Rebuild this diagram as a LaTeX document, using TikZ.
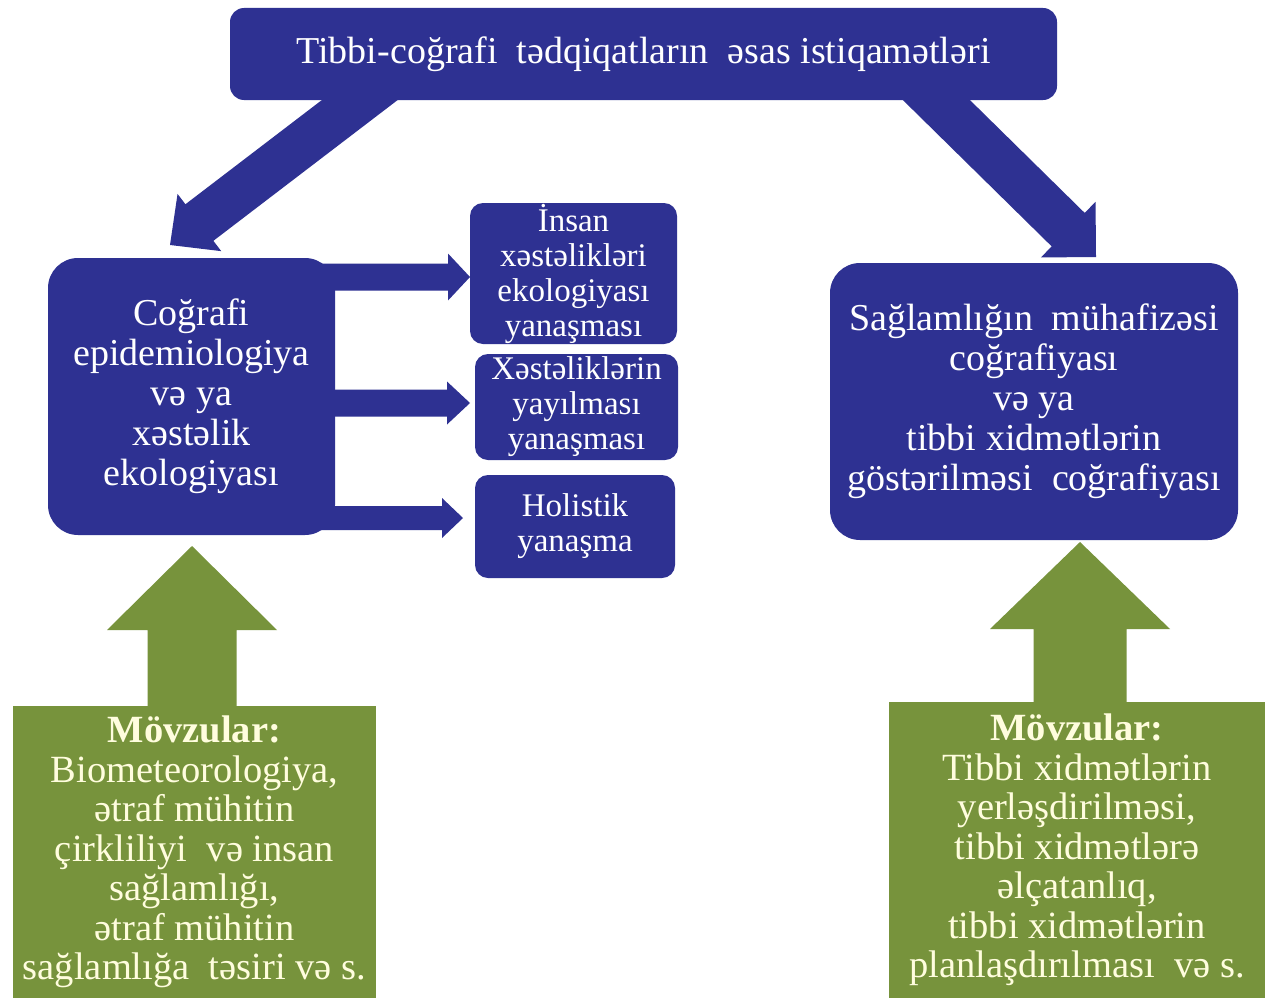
\documentclass[tikz,border=0pt]{standalone}
\usepackage{fontspec}
\setmainfont{Liberation Serif}
\usetikzlibrary{calc}
\definecolor{bblue}{RGB}{46,49,146}
\definecolor{ogreen}{RGB}{119,147,60}
\definecolor{cream}{RGB}{255,253,222}
\pgfdeclarelayer{bg}
\pgfsetlayers{bg,main}
% #1 fill, #2 start, #3 tip, #4 shaft half width, #5 head half width, #6 head length
\newcommand{\blockarr}[6]{%
  \coordinate (bxS) at (#2);
  \coordinate (bxT) at (#3);
  \coordinate (bxM) at ($(bxT)!#6!(bxS)$);
  \fill[#1] ($(bxS)!#4!90:(bxT)$) -- ($(bxM)!#4!90:(bxT)$) -- ($(bxM)!#5!90:(bxT)$) -- (bxT)
    -- ($(bxM)!#5!-90:(bxT)$) -- ($(bxM)!#4!-90:(bxT)$) -- ($(bxS)!#4!-90:(bxT)$) -- cycle;}
\tikzset{
  bluebox/.style={fill=bblue, draw=none, text=white, align=center, inner sep=0pt},
  bigbox/.style={bluebox, rounded corners=30pt, font=\fontsize{38}{40}\selectfont},
  smallbox/.style={bluebox, rounded corners=13pt, font=\fontsize{33}{35}\selectfont},
  greenbox/.style={fill=ogreen, draw=none, text=cream, align=center, inner sep=0pt,
    font=\fontsize{38.5}{39.5}\selectfont},
}
\begin{document}
\begin{tikzpicture}[x=1pt,y=-1pt]
\useasboundingbox (0,0) rectangle (1265,998);

\node[bluebox, rounded corners=14pt, font=\fontsize{38}{40}\selectfont,
  minimum width=827pt, minimum height=92pt] (top) at (643.5,54)
  {Tibbi-coğrafi\ \ tədqiqatların\ \ əsas istiqamətləri};

\node[bigbox, minimum width=287pt, minimum height=277pt] (geo) at (191.5,396.5)
  {Coğrafi\\epidemiologiya\\və ya\\xəstəlik\\ekologiyası};

\node[bigbox, minimum width=408pt, minimum height=277pt] (health) at (1034,401.5)
  {Sağlamlığın\ \ mühafizəsi\\coğrafiyası\\və ya\\tibbi xidmətlərin\\göstərilməsi\ \ coğrafiyası};

\node[smallbox, minimum width=207pt, minimum height=141pt] (m1) at (573.5,273.5)
  {İnsan\\xəstəlikləri\\ekologiyası\\yanaşması};
\node[smallbox, minimum width=203pt, minimum height=106pt] (m2) at (576.5,407)
  {Xəstəliklərin\\yayılması\\yanaşması};
\node[smallbox, minimum width=200pt, minimum height=103pt] (m3) at (575,526.5)
  {Holistik\\yanaşma};

\node[greenbox, minimum width=363pt, minimum height=292pt] (gl) at (194.5,852)
  {\textbf{Mövzular:}\\Biometeorologiya,\\ətraf mühitin\\çirkliliyi\ \ və insan\\sağlamlığı,\\ətraf mühitin\\sağlamlığa\ \ təsiri və s.};
\node[greenbox, minimum width=376pt, minimum height=296pt] (gr) at (1077,850)
  {\textbf{Mövzular:}\\Tibbi xidmətlərin\\yerləşdirilməsi,\\tibbi xidmətlərə\\əlçatanlıq,\\tibbi xidmətlərin\\planlaşdırılması\ \ və s.};

\coordinate (s1) at (386,80);   \coordinate (t1) at (170,245);
\coordinate (s2) at (916,80);   \coordinate (t2) at (1096,257);
\coordinate (h1) at (470,277);  \coordinate (h2) at (470,403);  \coordinate (h3) at (463,518);
\coordinate (g1s) at (192,760); \coordinate (g1t) at (192,546);
\coordinate (g2s) at (1080,760);\coordinate (g2t) at (1080,542);

\begin{pgfonlayer}{bg}
  \fill[white] (0,0) rectangle (1265,998);
  \blockarr{bblue}{s1}{t1}{23pt}{36pt}{37pt}
  \blockarr{bblue}{s2}{t2}{23.5pt}{39pt}{39pt}
  \blockarr{bblue}{h1 -| geo.center}{h1}{13.5pt}{23.5pt}{22pt}
  \blockarr{bblue}{h2 -| geo.center}{h2}{13.5pt}{21.5pt}{23pt}
  \blockarr{bblue}{h3 -| geo.center}{h3}{12pt}{20pt}{21pt}
  \blockarr{ogreen}{g1s}{g1t}{44.5pt}{85pt}{84pt}
  \blockarr{ogreen}{g2s}{g2t}{46.5pt}{90pt}{87pt}
\end{pgfonlayer}
\end{tikzpicture}
\end{document}
